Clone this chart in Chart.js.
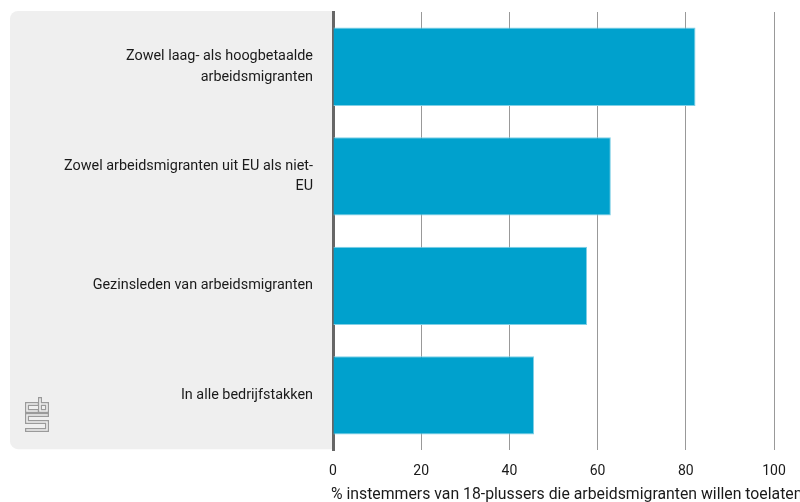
<!DOCTYPE html>
<html>
<head>
<meta charset="utf-8">
<script src="https://cdn.jsdelivr.net/npm/chart.js@4"></script>
<style>
  html, body { margin: 0; padding: 0; background: #fff; overflow: hidden; }
  #wrap { width: 800px; height: 504px; position: relative; }
</style>
</head>
<body>
<div id="wrap"><canvas id="chart"></canvas></div>
<script>
const categories = [
  ["Zowel laag- als hoogbetaalde", "arbeidsmigranten"],
  ["Zowel arbeidsmigranten uit EU als niet-", "EU"],
  "Gezinsleden van arbeidsmigranten",
  "In alle bedrijfstakken",
];
const values = [82.2, 63.0, 57.6, 45.6];
const axisTitle = "% instemmers van 18-plussers die arbeidsmigranten willen toelaten";

const FONT = "Roboto, 'Noto Sans', sans-serif";

// grey panel behind the category labels + cbs logo
const panel = {
  id: "panel",
  beforeDraw(chart) {
    const { ctx, chartArea } = chart;
    ctx.save();
    ctx.fillStyle = "#efefef";
    ctx.beginPath();
    ctx.roundRect(10, chartArea.top - 1, chartArea.left - 10, chartArea.bottom - chartArea.top, [8, 0, 0, 8]);
    ctx.fill();

    const logo = new Path2D();
    logo.moveTo(37, 404); logo.lineTo(27, 404); logo.lineTo(27, 411); logo.lineTo(37, 411);
    logo.moveTo(40, 399); logo.lineTo(40, 411); logo.lineTo(47, 411); logo.lineTo(47, 404); logo.lineTo(40, 404);
    logo.moveTo(47, 415); logo.lineTo(27, 415); logo.lineTo(27, 422); logo.lineTo(47, 422);
    logo.lineTo(47, 430); logo.lineTo(27, 430);
    ctx.lineJoin = "miter";
    ctx.lineCap = "square";
    ctx.strokeStyle = "#9a9a9a";
    ctx.lineWidth = 4;
    ctx.stroke(logo);
    ctx.strokeStyle = "#efefef";
    ctx.lineWidth = 1.6;
    ctx.stroke(logo);
    ctx.restore();
  },
  // axis title is wider than the scale, so draw it here (chart.js would squeeze it)
  afterDraw(chart) {
    const { ctx, chartArea } = chart;
    ctx.save();
    ctx.font = "15.8px " + FONT;
    ctx.fillStyle = "#1a1a1a";
    ctx.textAlign = "left";
    ctx.textBaseline = "middle";
    ctx.fillText(axisTitle, chart.scales.x.left - 2, chartArea.bottom + 45);
    ctx.restore();
  },
};

new Chart(document.getElementById("chart"), {
  type: "bar",
  data: {
    labels: categories,
    datasets: [
      {
        data: values,
        backgroundColor: "#00a1cd",
        borderColor: "#80d0e6",
        borderWidth: 1,
        borderSkipped: "start",
        barPercentage: 0.715,
        categoryPercentage: 1,
      },
    ],
  },
  options: {
    indexAxis: "y",
    responsive: true,
    maintainAspectRatio: false,
    animation: false,
    layout: { padding: { top: 12, right: 26, left: 0, bottom: 11 } },
    plugins: {
      legend: { display: false },
      tooltip: { enabled: false },
    },
    scales: {
      x: {
        min: 0,
        max: 100,
        ticks: {
          stepSize: 20,
          padding: 13,
          color: "#1a1a1a",
          font: { family: FONT, size: 14 },
        },
        grid: { color: "#999", lineWidth: 1, drawTicks: false },
        border: { display: false },
      },
      y: {
        afterFit(scale) {
          scale.width = 333;
          scale.paddingTop = 0;
          scale.paddingBottom = 0;
        },
        ticks: {
          padding: 20,
          color: "#1a1a1a",
          font: { family: FONT, size: 14.4, lineHeight: 1.42 },
        },
        grid: { display: false, drawTicks: false },
        border: { display: true, color: "#666", width: 3 },
      },
    },
  },
  plugins: [panel],
});
</script>
</body>
</html>
